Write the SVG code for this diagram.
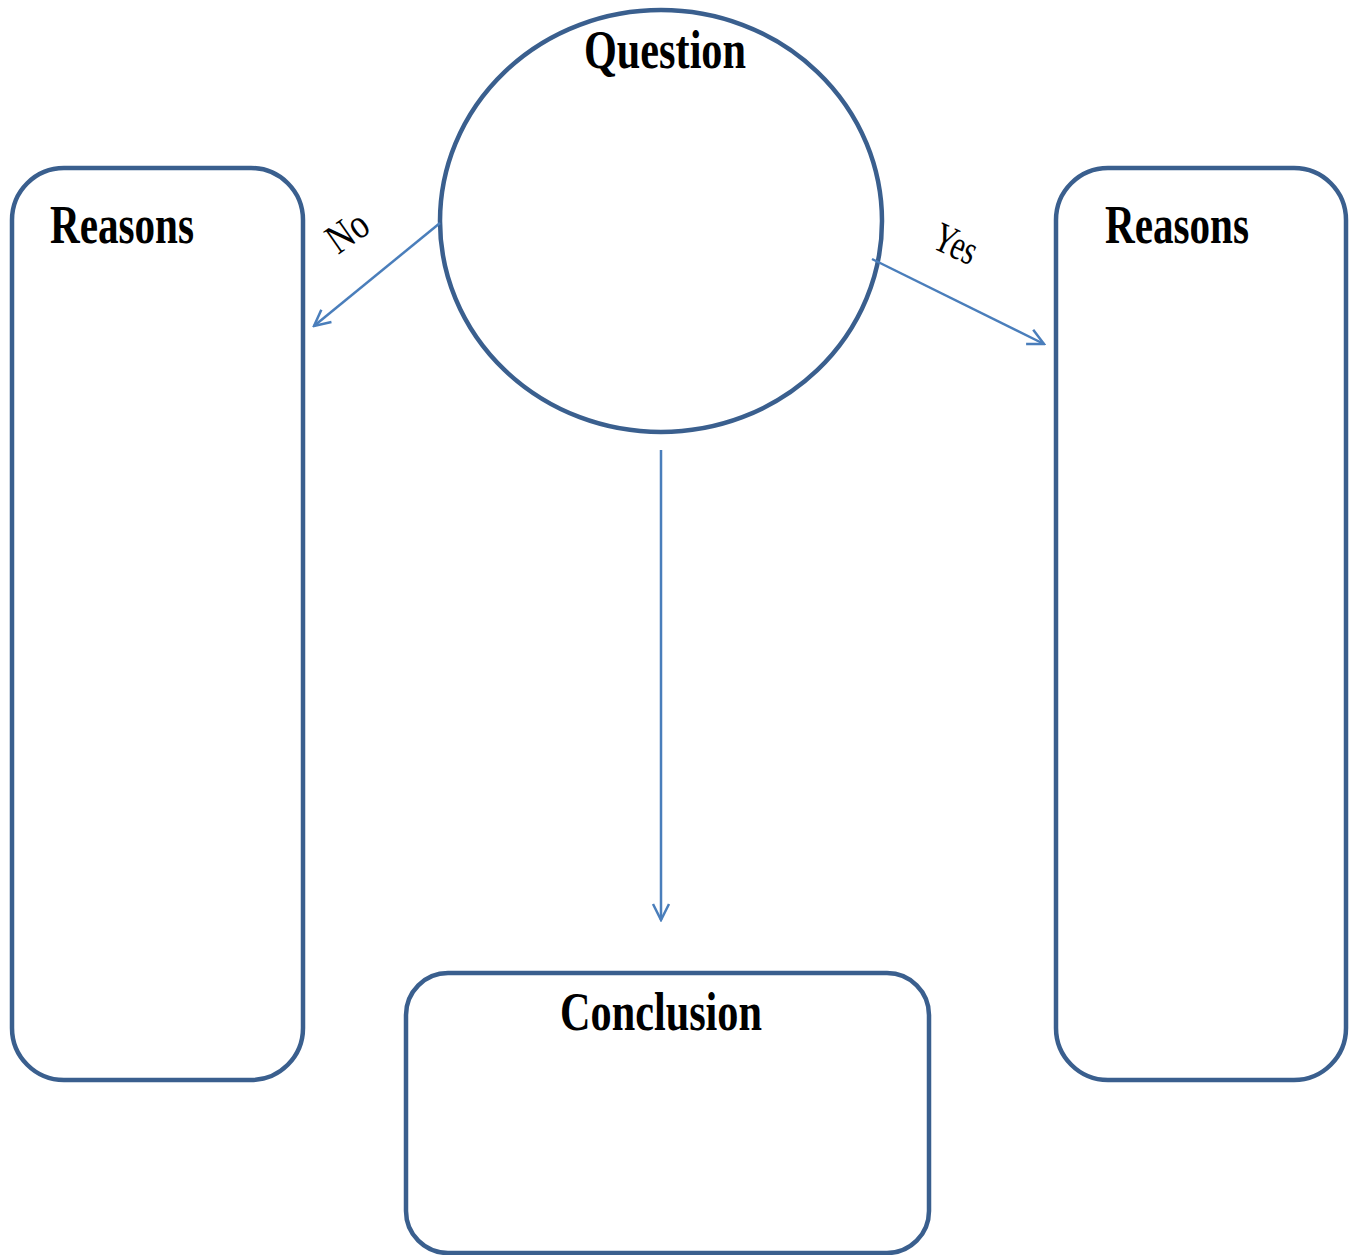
<svg xmlns="http://www.w3.org/2000/svg" width="1355" height="1255" viewBox="0 0 1355 1255">
<defs>
<style>
.node{fill:#fff;stroke:#3A5F8E;stroke-width:4.5}
.lbl{font-family:"Liberation Serif","Times New Roman",serif;font-weight:bold;fill:#000;font-size:54px}
.edge{stroke:#4A7EBB;stroke-width:2.5;fill:none}
.el{font-family:"Liberation Serif","Times New Roman",serif;fill:#000;font-size:42px}
</style>
<marker id="ah" viewBox="0 0 20 20" refX="18" refY="10" markerWidth="20" markerHeight="20" markerUnits="userSpaceOnUse" orient="auto">
<path d="M2,2 L18,10 L2,18" fill="none" stroke="#4A7EBB" stroke-width="2.5"/>
</marker>
</defs>
<rect width="1355" height="1255" fill="#fff"/>
<g id="question">
<ellipse class="node" cx="661" cy="221" rx="221" ry="211"/>
<text class="lbl" x="584" y="68" textLength="162" lengthAdjust="spacingAndGlyphs">Question</text>
</g>
<g id="reasons-no">
<rect class="node" x="12" y="168" width="291" height="912" rx="52"/>
<text class="lbl" x="50" y="243" textLength="144" lengthAdjust="spacingAndGlyphs">Reasons</text>
</g>
<g id="reasons-yes">
<rect class="node" x="1056" y="168" width="290" height="912" rx="52"/>
<text class="lbl" x="1105" y="243" textLength="144" lengthAdjust="spacingAndGlyphs">Reasons</text>
</g>
<g id="conclusion">
<rect class="node" x="406" y="973" width="523" height="280" rx="42"/>
<text class="lbl" x="560" y="1030" textLength="202" lengthAdjust="spacingAndGlyphs">Conclusion</text>
</g>
<g id="connectors">
<line class="edge" x1="440" y1="223" x2="314" y2="326" marker-end="url(#ah)"/>
<line class="edge" x1="872" y1="259" x2="1044" y2="344" marker-end="url(#ah)"/>
<line class="edge" x1="661" y1="450" x2="661" y2="920" marker-end="url(#ah)"/>
<text class="el" transform="translate(338,255) rotate(-35)" textLength="42" lengthAdjust="spacingAndGlyphs">No</text>
<text class="el" transform="translate(930,247) rotate(25)" textLength="44" lengthAdjust="spacingAndGlyphs">Yes</text>
</g>
</svg>
